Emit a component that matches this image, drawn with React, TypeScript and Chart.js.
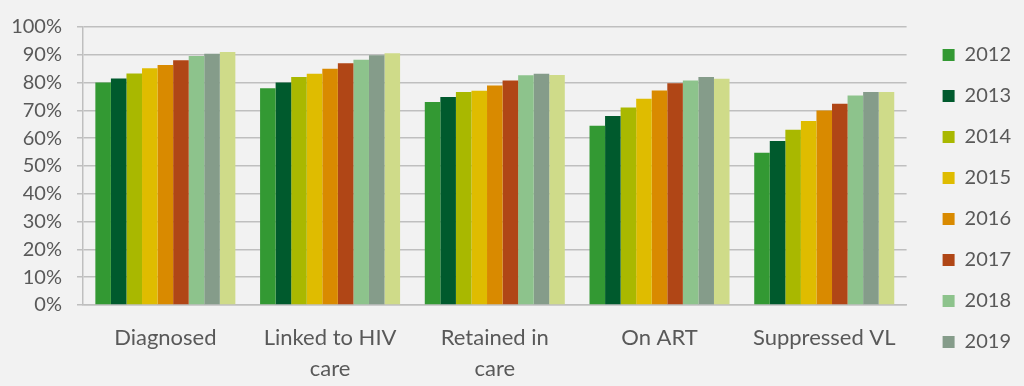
import React, { useEffect, useRef } from "react";
import { Chart, registerables } from "chart.js";

Chart.register(...registerables);

const CATEGORIES: string[][] = [
  ["Diagnosed"],
  ["Linked to HIV", "care"],
  ["Retained in", "care"],
  ["On ART"],
  ["Suppressed VL"],
];

const YEARS = ["2012", "2013", "2014", "2015", "2016", "2017", "2018", "2019", "2020"];

const V2012 = [80.0, 78.0, 73.0, 64.5, 54.8];
const V2013 = [81.5, 80.0, 74.8, 68.0, 59.0];
const V2014 = [83.3, 82.0, 76.6, 71.0, 63.0];
const V2015 = [85.2, 83.2, 77.1, 74.2, 66.2];
const V2016 = [86.3, 85.0, 79.0, 77.2, 70.0];
const V2017 = [88.0, 87.0, 80.8, 79.8, 72.4];
const V2018 = [89.6, 88.2, 82.6, 80.8, 75.4];
const V2019 = [90.4, 89.8, 83.2, 82.0, 76.6];
const V2020 = [91.0, 90.6, 82.7, 81.4, 76.6];

const SERIES_VALUES = [V2012, V2013, V2014, V2015, V2016, V2017, V2018, V2019, V2020];

const COLORS = [
  "#339933",
  "#005a2d",
  "#a9b800",
  "#dfbc00",
  "#d98a00",
  "#b04616",
  "#8dc38c",
  "#859c8a",
  "#cfdb89",
];

const LEGEND_VISIBLE_COUNT = 8;

const Y_TICKS_MAX = 100;
const Y_TICKS_STEP = 10;

export default function App() {
  const canvasRef = useRef<HTMLCanvasElement | null>(null);

  useEffect(() => {
    if (!canvasRef.current) return;
    const textColor = "#595959";
    const gridColor = "#bfbfbf";
    const fontFamily = "Lato, 'Open Sans', sans-serif";

    const chart = new Chart(canvasRef.current, {
      type: "bar",
      data: {
        labels: CATEGORIES,
        datasets: YEARS.map((year, i) => ({
          label: year,
          data: SERIES_VALUES[i],
          backgroundColor: COLORS[i],
          borderWidth: 0,
          categoryPercentage: 0.85,
          barPercentage: 1.0,
        })),
      },
      options: {
        animation: false,
        responsive: true,
        maintainAspectRatio: false,
        layout: { padding: { top: 24, right: 3, bottom: 0, left: 0 } },
        plugins: {
          tooltip: { enabled: false },
          legend: {
            position: "right",
            align: "start",
            labels: {
              color: textColor,
              font: { family: fontFamily, size: 20 },
              boxWidth: 12,
              boxHeight: 12,
              padding: 21,
              filter: (item: any) => item.datasetIndex < LEGEND_VISIBLE_COUNT,
            },
          },
        },
        scales: {
          x: {
            grid: { display: false, drawTicks: false },
            border: { display: true, color: gridColor, width: 1.5 },
            ticks: {
              color: textColor,
              font: { family: fontFamily, size: 22, lineHeight: 1.4 },
              padding: 18,
              maxRotation: 0,
              autoSkip: false,
            },
            afterFit: (s: any) => {
              s.height = 81;
            },
          },
          y: {
            min: 0,
            max: Y_TICKS_MAX,
            ticks: {
              stepSize: Y_TICKS_STEP,
              color: textColor,
              font: { family: fontFamily, size: 20 },
              padding: 15,
              callback: (v: any) => `${v}%`,
            },
            grid: { color: gridColor, lineWidth: 1.5, tickLength: 6, tickColor: gridColor },
            border: { display: true, color: gridColor, width: 1.5 },
            afterFit: (s: any) => {
              s.width = 83;
            },
          },
          spacer: {
            type: "linear",
            position: "right",
            display: true,
            grid: { display: false, drawTicks: false },
            border: { display: false },
            ticks: { display: false },
            afterFit: (s: any) => {
              s.width = 15;
            },
          },
        },
      },
    } as any);

    return () => chart.destroy();
  }, []);

  return (
    <div
      style={{
        position: "fixed",
        left: 0,
        top: 0,
        width: 1024,
        height: 386,
        background: "#f2f2f2",
      }}
    >
      <canvas ref={canvasRef} />
    </div>
  );
}
